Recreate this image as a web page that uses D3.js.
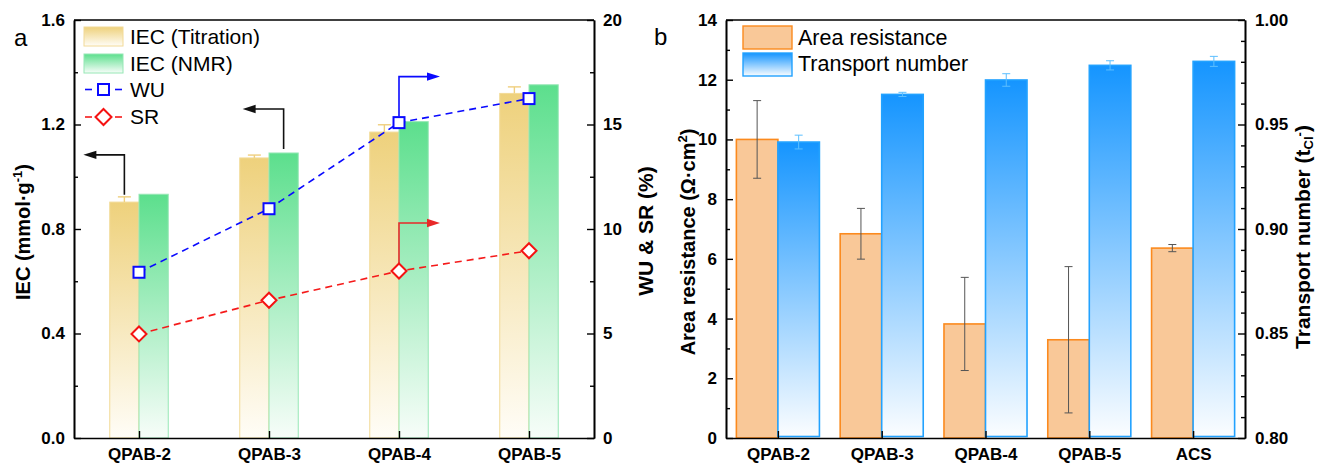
<!DOCTYPE html>
<html><head><meta charset="utf-8">
<script src="https://cdn.jsdelivr.net/npm/d3@7"></script>
<style>
html,body{margin:0;padding:0;background:#fff;}
svg{display:block;font-family:"Liberation Sans",Arial,sans-serif;}
</style></head>
<body>
<svg id="chart" width="1319" height="464"></svg>
<script>
// ---------- data ----------
const catsA = ["QPAB-2", "QPAB-3", "QPAB-4", "QPAB-5"];
const iecTitration = [0.903, 1.072, 1.171, 1.319];
const iecTitrationErr = [0.02, 0.011, 0.028, 0.025];
const iecNMR = [0.933, 1.091, 1.211, 1.352];
const wu = [7.93, 10.97, 15.09, 16.24];
const sr = [4.98, 6.59, 7.99, 8.96];
const ticksALeft = [0, 0.4, 0.8, 1.2, 1.6];
const ticksARight = [0, 5, 10, 15, 20];

const catsB = ["QPAB-2", "QPAB-3", "QPAB-4", "QPAB-5", "ACS"];
const areaRes = [10.0, 6.84, 3.82, 3.29, 6.36];
const areaResErr = [1.3, 0.85, 1.56, 2.45, 0.12];
const transport = [0.9416, 0.9644, 0.9713, 0.9783, 0.9802];
const transportErr = [0.0033, 0.001, 0.003, 0.0022, 0.0024];
const ticksBLeft = [0, 2, 4, 6, 8, 10, 12, 14];
const ticksBRight = [0.80, 0.85, 0.90, 0.95, 1.00];

const svg = d3.select("#chart");
const defs = svg.append("defs");
function vgrad(id, top, bottom) {
  const g = defs.append("linearGradient").attr("id", id)
    .attr("x1", 0).attr("y1", 0).attr("x2", 0).attr("y2", 1);
  g.append("stop").attr("offset", "0%").attr("stop-color", top);
  g.append("stop").attr("offset", "100%").attr("stop-color", bottom);
}
vgrad("gTit", "#eed17c", "#fffdf7");
vgrad("gNMR", "#5cdf8d", "#f7fdf9");
vgrad("gBlue", "#1595ff", "#fbfdff");

function arrowHead(g, x, y, dir, color) {
  const L = 13, H = 4.2;
  const pts = dir === "left"
    ? [[x, y], [x + L, y - H], [x + L, y + H]]
    : [[x, y], [x - L, y - H], [x - L, y + H]];
  g.append("path").attr("d", "M" + pts.map(p => p.join(",")).join("L") + "Z").attr("fill", color);
}

const FONT_TICK = 17;
function styleAxis(g) {
  g.attr("font-family", "'Liberation Sans',Arial,sans-serif")
   .attr("font-size", FONT_TICK).attr("font-weight", "bold");
  g.selectAll("path.domain").attr("stroke", "#000").attr("stroke-width", 1.6);
  g.selectAll(".tick line").attr("stroke", "#000").attr("stroke-width", 1.4);
  g.selectAll(".tick text").attr("fill", "#000");
}

// ================= PANEL A =================
const A = {l: 74, r: 594, t: 20, b: 438};
const xA = d3.scalePoint().domain(catsA).range([A.l, A.r]).padding(0.5);
const yA = d3.scaleLinear().domain([0, 1.6]).range([A.b, A.t]);
const yA2 = d3.scaleLinear().domain([0, 20]).range([A.b, A.t]);
const bwA = xA.step() * 0.225;
const gA = svg.append("g");

// bars
gA.selectAll("rect.tit").data(catsA).join("rect")
  .attr("x", d => xA(d) - bwA).attr("width", bwA)
  .attr("y", (d, i) => yA(iecTitration[i])).attr("height", (d, i) => yA(0) - yA(iecTitration[i]))
  .attr("fill", "url(#gTit)").attr("stroke", "#f2da97").attr("stroke-width", 1);
gA.selectAll("rect.nmr").data(catsA).join("rect")
  .attr("x", d => xA(d)).attr("width", bwA)
  .attr("y", (d, i) => yA(iecNMR[i])).attr("height", (d, i) => yA(0) - yA(iecNMR[i]))
  .attr("fill", "url(#gNMR)").attr("stroke", "#96e7b5").attr("stroke-width", 1);
// titration error bars
catsA.forEach((c, i) => {
  const cx = xA(c) - bwA / 2;
  const y1 = yA(iecTitration[i] + iecTitrationErr[i]);
  gA.append("line").attr("x1", cx).attr("x2", cx).attr("y1", yA(iecTitration[i])).attr("y2", y1)
    .attr("stroke", "#efcf7e").attr("stroke-width", 1.4);
  gA.append("line").attr("x1", cx - 6.5).attr("x2", cx + 6.5).attr("y1", y1).attr("y2", y1)
    .attr("stroke", "#efcf7e").attr("stroke-width", 1.4);
});

// lines
const lineWU = d3.line().x((d, i) => xA(catsA[i])).y(d => yA2(d));
gA.append("path").attr("d", lineWU(wu)).attr("fill", "none").attr("stroke", "#0a0aff")
  .attr("stroke-width", 1.6).attr("stroke-dasharray", "7,5");
gA.append("path").attr("d", lineWU(sr)).attr("fill", "none").attr("stroke", "#f51a1a")
  .attr("stroke-width", 1.6).attr("stroke-dasharray", "7,5");

// arrows
const RISE = 40, LEN = 41;
function elbow(x, y, dir, color) {
  const yt = y - RISE, xe = dir === "left" ? x - LEN : x + LEN;
  gA.append("path").attr("d", `M${x},${y}V${yt}H${dir === "left" ? xe + 10 : xe - 10}`)
    .attr("fill", "none").attr("stroke", color).attr("stroke-width", 1.6);
  arrowHead(gA, xe, yt, dir, color);
}
elbow(xA(catsA[0]) - bwA / 2, yA(iecTitration[0] + iecTitrationErr[0]) - 2, "left", "#111");
elbow(xA(catsA[1]) + bwA / 2, yA(iecNMR[1]) - 4, "left", "#111");
elbow(xA(catsA[2]), yA2(wu[2]) - 6, "right", "#0a0aff");
elbow(xA(catsA[2]), yA2(sr[2]) - 8, "right", "#e82828");

// markers
function square(g, x, y) {
  g.append("rect").attr("x", x - 5.5).attr("y", y - 5.5).attr("width", 11).attr("height", 11)
    .attr("fill", "#fff").attr("stroke", "#0a0aff").attr("stroke-width", 2);
}
function diamond(g, x, y, r = 7.5) {
  g.append("path").attr("d", `M${x},${y - r}L${x + r},${y}L${x},${y + r}L${x - r},${y}Z`)
    .attr("fill", "#fff").attr("stroke", "#f51212").attr("stroke-width", 2);
}
wu.forEach((v, i) => square(gA, xA(catsA[i]), yA2(v)));
sr.forEach((v, i) => diamond(gA, xA(catsA[i]), yA2(v)));

// axes
const axL = gA.append("g").attr("transform", `translate(${A.l},0)`)
  .call(d3.axisLeft(yA).tickValues(ticksALeft).tickFormat(d3.format(".1f")).tickSize(-7).tickSizeOuter(0).tickPadding(9));
styleAxis(axL);
gA.append("g").attr("transform", `translate(${A.l},0)`)
  .call(d3.axisLeft(yA).tickValues([0.2, 0.6, 1.0, 1.4]).tickFormat("").tickSize(-4).tickSizeOuter(0))
  .call(styleAxis);
const axR = gA.append("g").attr("transform", `translate(${A.r},0)`)
  .call(d3.axisRight(yA2).tickValues(ticksARight).tickFormat(d3.format("d")).tickSize(-7).tickSizeOuter(0).tickPadding(9));
styleAxis(axR);
gA.append("g").attr("transform", `translate(${A.r},0)`)
  .call(d3.axisRight(yA2).tickValues([2.5, 7.5, 12.5, 17.5]).tickFormat("").tickSize(-4).tickSizeOuter(0))
  .call(styleAxis);
const axB = gA.append("g").attr("transform", `translate(0,${A.b})`)
  .call(d3.axisBottom(xA).tickSize(-7).tickSizeOuter(0).tickPadding(10));
styleAxis(axB);
gA.append("line").attr("x1", A.l).attr("x2", A.r).attr("y1", A.t).attr("y2", A.t)
  .attr("stroke", "#000").attr("stroke-width", 1.6);

// titles
gA.append("text").attr("x", 14).attr("y", 46).attr("font-size", 24).text("a");
const tA = gA.append("text").attr("transform", "translate(30,232) rotate(-90)")
  .attr("text-anchor", "middle").attr("font-size", 20).attr("font-weight", "bold");
tA.append("tspan").text("IEC (mmol·g");
tA.append("tspan").attr("dy", -8).attr("font-size", 13).text("-1");
tA.append("tspan").attr("dy", 8).text(")");
gA.append("text").attr("transform", "translate(653,231) rotate(-90)")
  .attr("text-anchor", "middle").attr("font-size", 21).attr("font-weight", "bold").text("WU & SR (%)");

// legend A
const legA = gA.append("g");
legA.append("rect").attr("x", 84).attr("y", 27).attr("width", 39).attr("height", 19)
  .attr("fill", "url(#gTit)").attr("stroke", "#f2da97");
legA.append("rect").attr("x", 84).attr("y", 54).attr("width", 39).attr("height", 19)
  .attr("fill", "url(#gNMR)").attr("stroke", "#96e7b5");
[[85, 92], [115, 122]].forEach(([a, b]) => {
  legA.append("line").attr("x1", a).attr("x2", b).attr("y1", 89.5).attr("y2", 89.5)
    .attr("stroke", "#0a0aff").attr("stroke-width", 1.6);
  legA.append("line").attr("x1", a).attr("x2", b).attr("y1", 117).attr("y2", 117)
    .attr("stroke", "#f51a1a").attr("stroke-width", 1.6);
});
square(legA, 103.5, 89.5);
diamond(legA, 103.5, 117, 8);
[["IEC (Titration)", 43.5], ["IEC (NMR)", 70.5], ["WU", 97], ["SR", 124]].forEach(([t, y]) => {
  legA.append("text").attr("x", 130).attr("y", y).attr("font-size", 21).text(t);
});

// ================= PANEL B =================
const B = {l: 726, r: 1245, t: 20, b: 438};
const xB = d3.scalePoint().domain(catsB).range([B.l, B.r]).padding(0.5);
const yB = d3.scaleLinear().domain([0, 14]).range([B.b, B.t]);
const yB2 = d3.scaleLinear().domain([0.80, 1.00]).range([B.b, B.t]);
const bwB = xB.step() * 0.4;
const gB = svg.append("g");

gB.selectAll("rect.ar").data(catsB).join("rect")
  .attr("x", d => xB(d) - bwB).attr("width", bwB)
  .attr("y", (d, i) => yB(areaRes[i])).attr("height", (d, i) => yB(0) - yB(areaRes[i]))
  .attr("fill", "#f9c898").attr("stroke", "#fb8a1e").attr("stroke-width", 1.6);
gB.selectAll("rect.tn").data(catsB).join("rect")
  .attr("x", d => xB(d)).attr("width", bwB)
  .attr("y", (d, i) => yB2(transport[i])).attr("height", (d, i) => yB2(0.80) - 1.5 - yB2(transport[i]))
  .attr("fill", "url(#gBlue)").attr("stroke", "#22a2ff").attr("stroke-width", 1.6);

function errBar(g, x, yTop, yBot, color, w) {
  g.append("line").attr("x1", x).attr("x2", x).attr("y1", yTop).attr("y2", yBot).attr("stroke", color).attr("stroke-width", 1);
  g.append("line").attr("x1", x - w / 2).attr("x2", x + w / 2).attr("y1", yTop).attr("y2", yTop).attr("stroke", color).attr("stroke-width", 1);
  g.append("line").attr("x1", x - w / 2).attr("x2", x + w / 2).attr("y1", yBot).attr("y2", yBot).attr("stroke", color).attr("stroke-width", 1);
}
catsB.forEach((c, i) => {
  errBar(gB, xB(c) - bwB / 2, yB(areaRes[i] + areaResErr[i]), yB(areaRes[i] - areaResErr[i]), "#555", 8);
  errBar(gB, xB(c) + bwB / 2, yB2(transport[i] + transportErr[i]), yB2(transport[i] - transportErr[i]), "#5cbfff", 8);
});

const bL = gB.append("g").attr("transform", `translate(${B.l},0)`)
  .call(d3.axisLeft(yB).tickValues(ticksBLeft).tickFormat(d3.format("d")).tickSize(-7).tickSizeOuter(0).tickPadding(9));
styleAxis(bL);
gB.append("g").attr("transform", `translate(${B.l},0)`)
  .call(d3.axisLeft(yB).tickValues([1, 3, 5, 7, 9, 11, 13]).tickFormat("").tickSize(-4).tickSizeOuter(0))
  .call(styleAxis);
const bR = gB.append("g").attr("transform", `translate(${B.r},0)`)
  .call(d3.axisRight(yB2).tickValues(ticksBRight).tickFormat(d3.format(".2f")).tickSize(-7).tickSizeOuter(0).tickPadding(10));
styleAxis(bR);
const minorB2 = d3.range(0.81, 1.0, 0.01).filter(v => Math.abs(v * 20 - Math.round(v * 20)) > 0.01);
gB.append("g").attr("transform", `translate(${B.r},0)`)
  .call(d3.axisRight(yB2).tickValues(minorB2).tickFormat("").tickSize(-4).tickSizeOuter(0))
  .call(styleAxis);
const bB = gB.append("g").attr("transform", `translate(0,${B.b})`)
  .call(d3.axisBottom(xB).tickSize(-7).tickSizeOuter(0).tickPadding(10));
styleAxis(bB);
gB.append("line").attr("x1", B.l).attr("x2", B.r).attr("y1", B.t).attr("y2", B.t)
  .attr("stroke", "#000").attr("stroke-width", 1.6);

gB.append("text").attr("x", 654).attr("y", 45).attr("font-size", 24).text("b");
const tB = gB.append("text").attr("transform", "translate(695,242) rotate(-90)")
  .attr("text-anchor", "middle").attr("font-size", 20).attr("font-weight", "bold");
tB.append("tspan").text("Area resistance (Ω·cm");
tB.append("tspan").attr("dy", -8).attr("font-size", 13).text("2");
tB.append("tspan").attr("dy", 8).text(")");
const tB2 = gB.append("text").attr("transform", "translate(1310,237) rotate(-90)")
  .attr("text-anchor", "middle").attr("font-size", 21).attr("font-weight", "bold");
tB2.append("tspan").text("Transport number (t");
tB2.append("tspan").attr("dy", 3).attr("font-size", 13).text("Cl");
tB2.append("tspan").attr("dy", -9).attr("font-size", 13).text("-");
tB2.append("tspan").attr("dy", 6).text(")");

const legB = gB.append("g");
legB.append("rect").attr("x", 743).attr("y", 26).attr("width", 49).attr("height", 23)
  .attr("fill", "#f9c898").attr("stroke", "#fb8a1e").attr("stroke-width", 1.4);
legB.append("rect").attr("x", 743).attr("y", 53).attr("width", 49).attr("height", 23)
  .attr("fill", "url(#gBlue)").attr("stroke", "#22a2ff").attr("stroke-width", 1.4);
[["Area resistance", 45], ["Transport number", 71]].forEach(([t, y]) => {
  legB.append("text").attr("x", 798).attr("y", y).attr("font-size", 21.5).text(t);
});
</script>
</body></html>
